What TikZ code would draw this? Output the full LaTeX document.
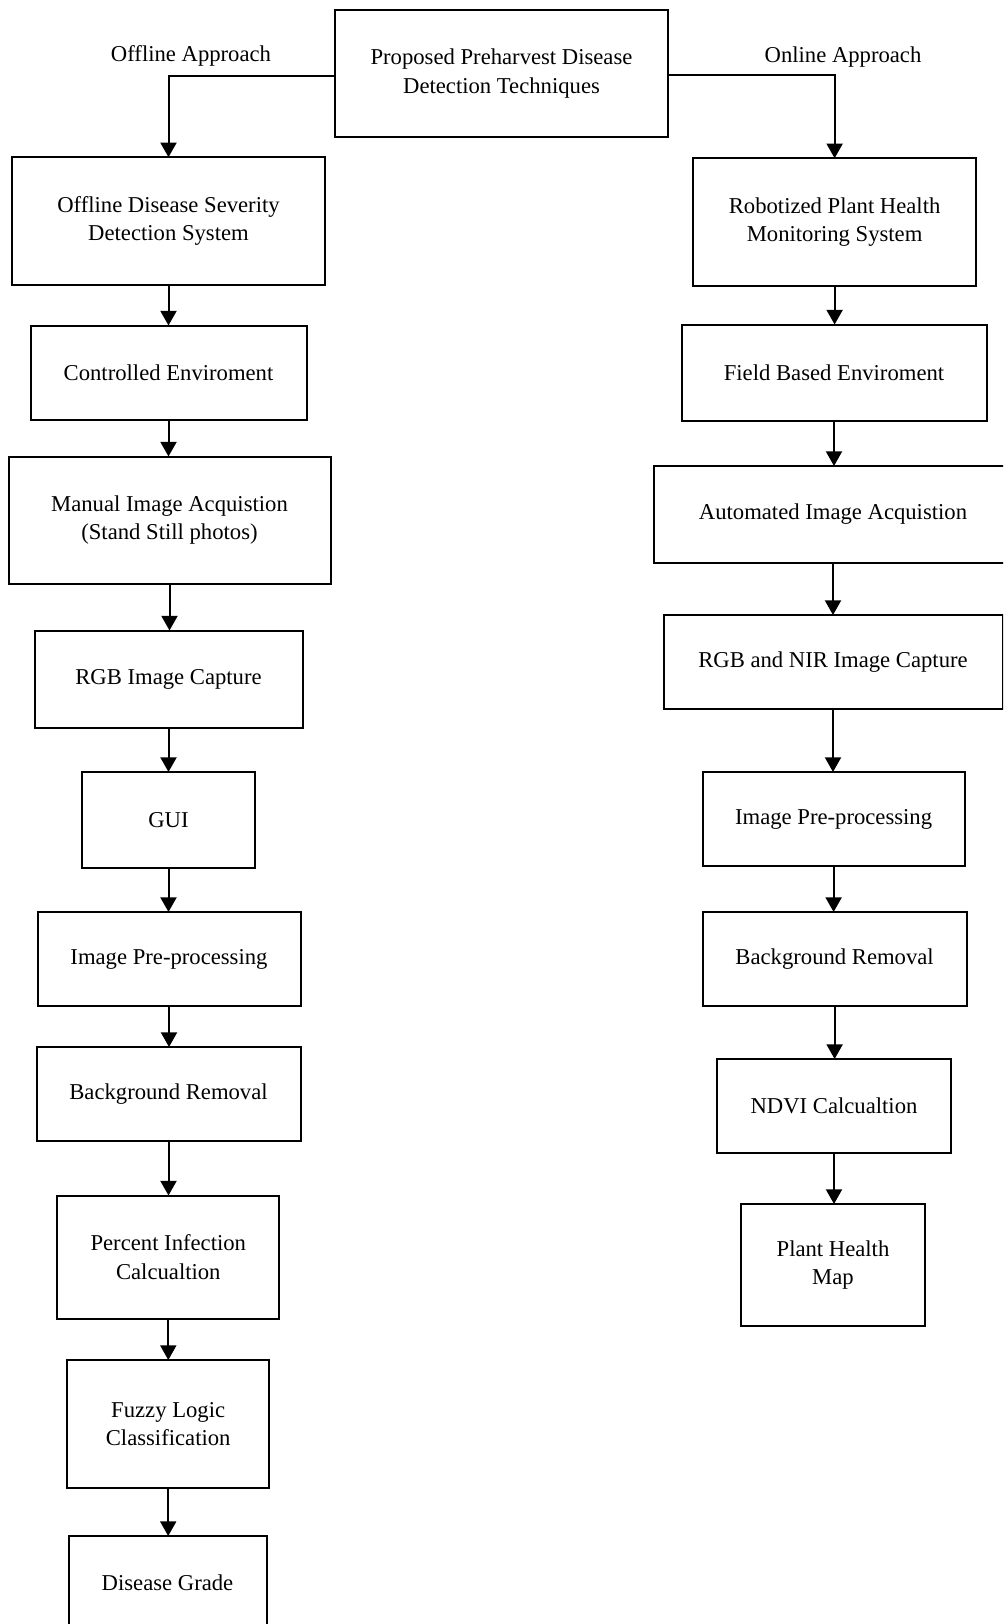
\documentclass[tikz,border=0pt]{standalone}
\usepackage{fontspec}
\setmainfont{Liberation Serif}
\usetikzlibrary{arrows.meta}

% one unit = one pixel of a 1003 x 1624 sheet, y running downwards
\newcommand\flowbox[6]{%
  \node[blk, minimum width=#4*0.75pt, minimum height=#5*0.75pt] (#1) at (#2,#3) {#6};}

\begin{document}
\begin{tikzpicture}[x=0.75pt, y=-0.75pt,
  blk/.style={draw, line width=1.5pt, align=center, inner sep=0pt, outer sep=0pt,
              font=\fontsize{17}{21.5}\selectfont},
  lbl/.style={font=\fontsize{17}{21.5}\selectfont, inner sep=0pt},
  arr/.style={line width=1.5pt, -{Triangle[width=12pt,length=11pt]}}]

\fill[white] (0,0) rectangle (1003,1624);
\useasboundingbox (0,0) rectangle (1003,1624);
\clip (0,0) rectangle (1003,1624);

% root
\flowbox{top}{501.5}{73.5}{333}{127}{Proposed Preharvest Disease\\Detection Techniques}
\node[lbl] (offl) at (191,56) {Offline Approach};
\node[lbl] (onl) at (843,57) {Online Approach};

% offline branch
\flowbox{L1}{168.5}{221}{313}{127.5}{Offline Disease Severity\\Detection System}
\flowbox{L2}{168.5}{372.5}{276}{94}{Controlled Enviroment}
\flowbox{L3}{169.5}{520}{322}{127}{Manual Image Acquistion\\(Stand Still photos)}
\flowbox{L4}{168.5}{679}{268}{97}{RGB Image Capture}
\flowbox{L5}{168.5}{820}{173}{96}{GUI}
\flowbox{L6}{169}{959}{263}{94}{Image Pre-processing}
\flowbox{L7}{168.5}{1094}{264}{94}{Background Removal}
\flowbox{L8}{168.3}{1257}{222}{123}{Percent Infection\\Calcualtion}
\flowbox{L9}{168.2}{1424}{202}{128}{Fuzzy Logic\\Classification}
\flowbox{L10}{167.5}{1583}{198}{94}{Disease Grade}

% online branch
\flowbox{R1}{834.6}{222}{283}{127.5}{Robotized Plant Health\\Monitoring System}
\flowbox{R2}{834}{372.5}{305}{96}{Field Based Enviroment}
\flowbox{R3}{833}{514.5}{358}{97}{Automated Image Acquistion}
\flowbox{R4}{833}{662}{339}{94}{RGB and NIR Image Capture}
\flowbox{R5}{833.6}{819}{262}{94}{Image Pre-processing}
\flowbox{R6}{834.6}{959}{264}{94}{Background Removal}
\flowbox{R7}{834}{1106}{234}{94}{NDVI Calcualtion}
\flowbox{R8}{833}{1265}{184}{122}{Plant Health\\Map}

% connectors
\draw[arr] ([yshift=-1.5pt]top.west) -| (L1.north);
\draw[arr] ([yshift=-1pt]top.east) -| (R1.north);

\foreach \a/\b in {L1/L2,L2/L3,L3/L4,L4/L5,L5/L6,L6/L7,L7/L8,L8/L9,L9/L10,
                   R1/R2,R2/R3,R3/R4,R4/R5,R5/R6,R6/R7,R7/R8}
  \draw[arr] (\a.south) -- (\a.south |- \b.north);

\end{tikzpicture}
\end{document}
